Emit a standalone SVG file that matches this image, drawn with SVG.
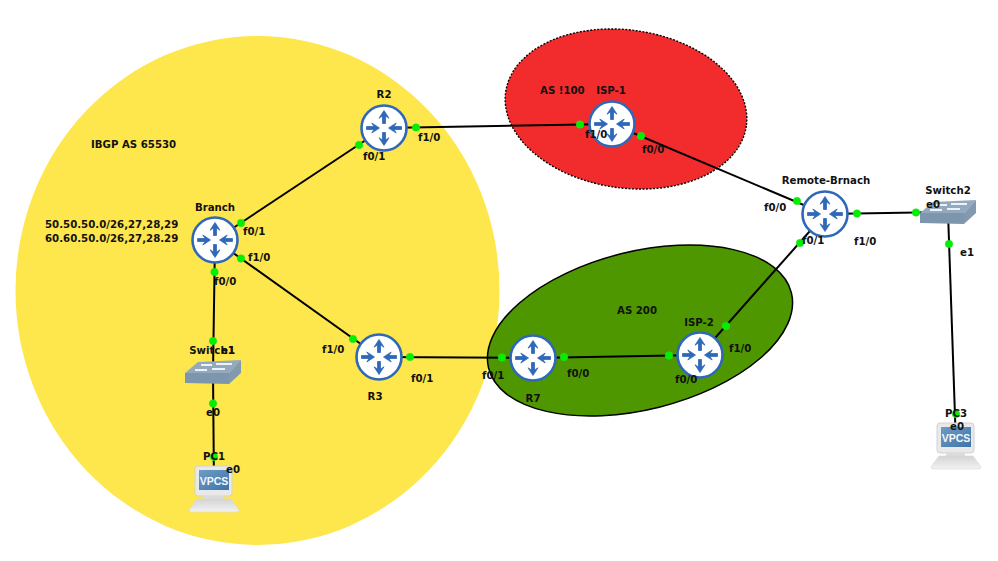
<svg xmlns="http://www.w3.org/2000/svg" width="998" height="561" viewBox="0 0 998 561">
<style>
text{font-family:"DejaVu Sans",sans-serif;font-weight:bold;font-size:10.2px;fill:#111}
.link{stroke:#000;stroke-width:2;fill:none}
.dot{fill:#00f000;stroke:#2fe02f;stroke-width:.5}
</style>
<defs>
<linearGradient id="screen" x1="0" y1="0" x2="1" y2="1">
<stop offset="0" stop-color="#6f9cc6"/><stop offset="1" stop-color="#3f74a8"/>
</linearGradient>
<linearGradient id="stand" x1="0" y1="0" x2="0" y2="1">
<stop offset="0" stop-color="#d4d4d4"/><stop offset="1" stop-color="#f2f2f2"/>
</linearGradient>
<g id="arrows" fill="#2f68b8" stroke="#2f68b8" stroke-width=".8" stroke-linejoin="round">
<path id="up" d="M-1.500-4.500V-12L-5-9.800L0-17.500L5-9.800L1.500-12V-4.500Z"/>
<use href="#up" transform="rotate(180)"/>
<path d="M-17.500-1.500H-10L-12.200-5L-4.500 0L-12.200 5L-10 1.500H-17.500Z"/>
<path d="M17.500-1.500H10L12.200-5L4.500 0L12.200 5L10 1.500H17.500Z"/>
</g>
<g id="router">
<circle r="22.5" fill="#fff" stroke="#2f68b8" stroke-width="2.6"/>
<use href="#arrows"/>
</g>
<g id="switch">
<path d="M-28 1L-15-10L28-12L16 1Z" fill="#93a9bd"/>
<path d="M-28 1H16V12L-28 11Z" fill="#7d96ae"/>
<path d="M16 1L28-12V1L16 12Z" fill="#8299af"/>
<path d="M-18-2H-6M-12-7H-1M3-8H19M-1-3H12" stroke="#eef2f6" stroke-width="1.800" fill="none"/>
</g>
<g id="pc">
<rect x="-19" y="-22" width="37" height="30" rx="3" fill="#e9e9e9" stroke="#d2d2d2"/>
<rect x="-15" y="-18" width="30" height="20" fill="url(#screen)"/>
<rect x="-10" y="8" width="19" height="3" fill="#dcdcdc"/>
<path d="M-17 11H17L25 22Q25 24 22 24H-22Q-25 24-25 22Z" fill="url(#stand)" stroke="#d8d8d8" stroke-width=".6"/>
<text x="0" y="-3" text-anchor="middle" style="font-family:'Liberation Sans',sans-serif;font-size:10.500px;fill:#f4f7fa">VPCS</text>
</g>
</defs>

<!-- autonomous system zones -->
<g id="zones">
<ellipse id="zone-ibgp" cx="257.5" cy="290.5" rx="242" ry="254.5" fill="#fee64d"/>
<ellipse id="zone-as100" cx="626" cy="109" rx="121.500" ry="79" transform="rotate(8 626 109)" fill="#f22c2c" stroke="#000" stroke-width="1.400" stroke-dasharray="2 1.500"/>
<ellipse id="zone-as200" cx="640" cy="330.5" rx="156" ry="79" transform="rotate(-14 640 330.500)" fill="#4e9700" stroke="#000" stroke-width="1.500"/>
</g>

<g id="connectors">
<path class="link" d="M384 128L215 240"/>
<path class="link" d="M384 128L612 124"/>
<path class="link" d="M612 124L825 214"/>
<path class="link" d="M215 240L379 357"/>
<path class="link" d="M215 240L213 372"/>
<path class="link" d="M213 372L214 488"/>
<path class="link" d="M379 357L533 358"/>
<path class="link" d="M533 358L700 355"/>
<path class="link" d="M700 355L825 214"/>
<path class="link" d="M825 214L948 212"/>
<path class="link" d="M948 212L956 445"/>
</g>

<!-- interface endpoints -->
<g id="endpoints">
<circle class="dot" cx="359" cy="145" r="3.8"/><circle class="dot" cx="416" cy="127.500" r="3.8"/>
<circle class="dot" cx="580" cy="124.500" r="3.8"/><circle class="dot" cx="641" cy="136" r="3.8"/>
<circle class="dot" cx="241" cy="223" r="3.8"/><circle class="dot" cx="241" cy="258.500" r="3.8"/>
<circle class="dot" cx="214.500" cy="272" r="3.8"/><circle class="dot" cx="213" cy="341" r="3.8"/>
<circle class="dot" cx="213" cy="403.500" r="3.8"/><circle class="dot" cx="214" cy="457" r="3.8"/>
<circle class="dot" cx="353" cy="339" r="3.8"/><circle class="dot" cx="410" cy="357" r="3.8"/>
<circle class="dot" cx="502" cy="357.500" r="3.8"/><circle class="dot" cx="564" cy="357" r="3.8"/>
<circle class="dot" cx="669" cy="355.500" r="3.8"/><circle class="dot" cx="726" cy="326" r="3.8"/>
<circle class="dot" cx="797" cy="201" r="3.8"/><circle class="dot" cx="800" cy="243" r="3.8"/>
<circle class="dot" cx="857" cy="213.500" r="3.8"/><circle class="dot" cx="916" cy="212.500" r="3.8"/>
<circle class="dot" cx="949" cy="244" r="3.8"/><circle class="dot" cx="956" cy="414" r="3.8"/>
</g>

<g id="node-r2"><use href="#router" x="384" y="128"/><text x="384" y="98" text-anchor="middle">R2</text></g>
<g id="node-isp1"><use href="#router" x="612" y="124"/><text x="611" y="94" text-anchor="middle">ISP-1</text></g>
<g id="node-branch"><use href="#router" x="215" y="240"/><text x="215" y="211" text-anchor="middle">Branch</text></g>
<g id="node-r3"><use href="#router" x="379" y="357"/><text x="375" y="400" text-anchor="middle">R3</text></g>
<g id="node-r7"><use href="#router" x="533" y="358"/><text x="533" y="402" text-anchor="middle">R7</text></g>
<g id="node-isp2"><use href="#router" x="700" y="355"/><text x="699" y="326" text-anchor="middle">ISP-2</text></g>
<g id="node-remote"><use href="#router" x="825" y="214"/><text x="826" y="184" text-anchor="middle">Remote-Brnach</text></g>
<g id="node-switch1"><use href="#switch" x="213" y="372"/><text x="212" y="354" text-anchor="middle">Switch1</text></g>
<g id="node-switch2"><use href="#switch" x="948" y="212"/><text x="948" y="194" text-anchor="middle">Switch2</text></g>
<g id="node-pc1"><use href="#pc" x="214" y="488"/><text x="214" y="460" text-anchor="middle">PC1</text></g>
<g id="node-pc3"><use href="#pc" x="956" y="445"/><text x="956" y="417" text-anchor="middle">PC3</text></g>

<g id="labels">
<text x="91" y="148">IBGP AS 65530</text>
<text x="45" y="228">50.50.50.0/26,27,28,29</text>
<text x="45" y="242">60.60.50.0/26,27,28.29</text>
<text x="540" y="94">AS !100</text>
<text x="617" y="314">AS 200</text>
<text x="363" y="160">f0/1</text>
<text x="418" y="141">f1/0</text>
<text x="585" y="138">f1/0</text>
<text x="642" y="153">f0/0</text>
<text x="243" y="235">f0/1</text>
<text x="248" y="261">f1/0</text>
<text x="214" y="285">f0/0</text>
<text x="221" y="354">e1</text>
<text x="206" y="416">e0</text>
<text x="226" y="473">e0</text>
<text x="322" y="353">f1/0</text>
<text x="411" y="382">f0/1</text>
<text x="482" y="379">f0/1</text>
<text x="567" y="377">f0/0</text>
<text x="675" y="383">f0/0</text>
<text x="729" y="352">f1/0</text>
<text x="764" y="211">f0/0</text>
<text x="802" y="244">f0/1</text>
<text x="854" y="245">f1/0</text>
<text x="926" y="208">e0</text>
<text x="960" y="256">e1</text>
<text x="950" y="430">e0</text>
</g>
</svg>
